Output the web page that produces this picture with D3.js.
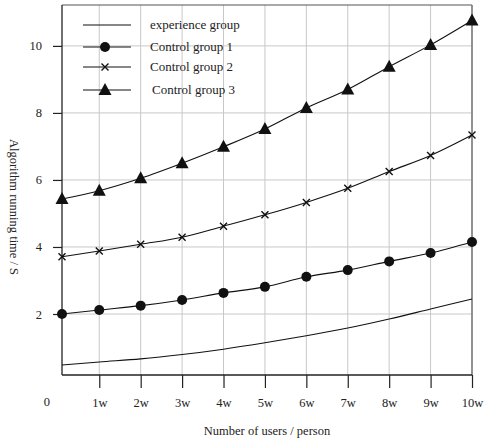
<!DOCTYPE html>
<html>
<head>
<meta charset="utf-8">
<script src="https://cdn.jsdelivr.net/npm/d3@7"></script>
<style>
  body { margin: 0; background: #fff; }
  text { font-family: "Liberation Serif", "Times New Roman", serif; }
</style>
</head>
<body>
<div id="chart"></div>
<script>
const width = 484;
const height = 443;
const margin = { top: 5, right: 12, bottom: 68, left: 62 };

// data
const users = [0.1, 1, 2, 3, 4, 5, 6, 7, 8, 9, 10]; // unit: w (10 000 persons)
const xTicks = [1, 2, 3, 4, 5, 6, 7, 8, 9, 10];
const xTickLabels = ["1w", "2w", "3w", "4w", "5w", "6w", "7w", "8w", "9w", "10w"];
const yTicks = [2, 4, 6, 8, 10];
const experienceGroup = [0.48, 0.57, 0.66, 0.79, 0.95, 1.14, 1.35, 1.58, 1.85, 2.15, 2.45];
const controlGroup1 = [2.0, 2.12, 2.25, 2.42, 2.63, 2.81, 3.11, 3.31, 3.57, 3.82, 4.15];
const controlGroup2 = [3.71, 3.88, 4.08, 4.29, 4.62, 4.96, 5.33, 5.75, 6.25, 6.73, 7.34];
const controlGroup3 = [5.43, 5.68, 6.05, 6.5, 6.99, 7.52, 8.15, 8.7, 9.38, 10.03, 10.76];
const seriesNames = ["experience group", "Control group 1", "Control group 2", "Control group 3"];
const seriesMarkers = ["none", "circle", "cross", "triangle"];

const series = [experienceGroup, controlGroup1, controlGroup2, controlGroup3].map((vals, i) => ({
    name: seriesNames[i],
    marker: seriesMarkers[i],
    points: vals.map((v, j) => ({ x: users[j], y: v }))
}));

const svg = d3.select("#chart")
    .append("svg")
    .attr("width", width)
    .attr("height", height);

const x = d3.scaleLinear()
    .domain([0.1, 10])
    .range([margin.left, width - margin.right]);

const y = d3.scaleLinear()
    .domain([0.18, 11.22])
    .range([height - margin.bottom, margin.top]);

const x0 = margin.left, x1 = width - margin.right;
const y0 = height - margin.bottom, y1 = margin.top;

// grid
svg.append("g")
    .selectAll("line")
    .data(xTicks)
    .join("line")
    .attr("x1", d => x(d)).attr("x2", d => x(d))
    .attr("y1", y0).attr("y2", y1)
    .attr("stroke", "#c8c8c8").attr("stroke-width", 1);

svg.append("g")
    .selectAll("line")
    .data(yTicks)
    .join("line")
    .attr("x1", x0).attr("x2", x1)
    .attr("y1", d => y(d)).attr("y2", d => y(d))
    .attr("stroke", "#c8c8c8").attr("stroke-width", 1);

// frame top/right
svg.append("line")
    .attr("x1", x0).attr("x2", x1).attr("y1", y1).attr("y2", y1)
    .attr("stroke", "#555").attr("stroke-width", 1.2);
svg.append("line")
    .attr("x1", x1).attr("x2", x1).attr("y1", y1).attr("y2", y0)
    .attr("stroke", "#777").attr("stroke-width", 1.5);

// axes
const xAxis = svg.append("g")
    .attr("transform", `translate(0,${y0})`)
    .call(d3.axisBottom(x).tickValues(xTicks).tickSize(13).tickPadding(10)
        .tickFormat((d, i) => xTickLabels[i]));
xAxis.select(".domain").attr("stroke", "#222").attr("stroke-width", 1.3)
    .attr("d", `M${x0},0H${x1}`);
xAxis.selectAll(".tick line").attr("stroke", "#222").attr("stroke-width", 1.2);
xAxis.selectAll(".tick text").attr("font-size", 12.5)
    .style("font-family", "Liberation Serif").attr("fill", "#222");

const yAxis = svg.append("g")
    .attr("transform", `translate(${x0},0)`)
    .call(d3.axisLeft(y).tickValues(yTicks).tickSize(9).tickPadding(11));
yAxis.select(".domain").attr("stroke", "#222").attr("stroke-width", 1.3)
    .attr("d", `M0,${y0}V${y1}`);
yAxis.selectAll(".tick line").attr("stroke", "#222").attr("stroke-width", 1.2);
yAxis.selectAll(".tick text").attr("font-size", 12.5)
    .style("font-family", "Liberation Serif").attr("fill", "#222");

// origin label
svg.append("text")
    .attr("x", x(0) - 11)
    .attr("y", y0 + 31)
    .attr("text-anchor", "middle")
    .attr("font-size", 12.5)
    .attr("fill", "#222")
    .text("0");

// axis titles
svg.append("text")
    .attr("x", (x0 + x1) / 2)
    .attr("y", height - 8)
    .attr("text-anchor", "middle")
    .attr("font-size", 12.5)
    .attr("fill", "#222")
    .text("Number of users / person");

svg.append("text")
    .attr("transform", `translate(10,${(y0 + y1) / 2 + 17}) rotate(90)`)
    .attr("text-anchor", "middle")
    .attr("font-size", 12.5)
    .attr("fill", "#222")
    .text("Algorithm running time / S");

// lines
const line = d3.line()
    .x(d => x(d.x))
    .y(d => y(d.y))
    .curve(d3.curveMonotoneX);

svg.append("g")
    .selectAll("path")
    .data(series)
    .join("path")
    .attr("d", d => line(d.points))
    .attr("fill", "none")
    .attr("stroke", "#111")
    .attr("stroke-width", 1.1);

// markers
function drawMarker(g, type, cx, cy) {
    if (type === "circle") {
        g.append("circle").attr("cx", cx).attr("cy", cy).attr("r", 5).attr("fill", "#111");
    } else if (type === "cross") {
        const s = 3.5;
        g.append("path")
            .attr("d", `M${cx - s},${cy - s}L${cx + s},${cy + s}M${cx - s},${cy + s}L${cx + s},${cy - s}`)
            .attr("stroke", "#111").attr("stroke-width", 1.4).attr("fill", "none");
    } else if (type === "triangle") {
        g.append("path")
            .attr("d", `M${cx},${cy - 7}L${cx + 6.5},${cy + 5}L${cx - 6.5},${cy + 5}Z`)
            .attr("fill", "#111");
    }
}

const markerLayer = svg.append("g");
series.forEach(s => {
    s.points.forEach(p => drawMarker(markerLayer, s.marker, x(p.x), y(p.y)));
});

// legend
const legend = svg.append("g");
const legendRows = [25, 47, 67, 90];
series.forEach((s, i) => {
    const ly = legendRows[i];
    legend.append("line")
        .attr("x1", 83).attr("x2", 131)
        .attr("y1", ly).attr("y2", ly)
        .attr("stroke", "#111").attr("stroke-width", 1.1);
    drawMarker(legend, s.marker, 105, ly);
    legend.append("text")
        .attr("x", i === 3 ? 152 : 150)
        .attr("y", ly + 4)
        .attr("font-size", 13)
        .attr("fill", "#222")
        .text(s.name);
});
</script>
</body>
</html>
